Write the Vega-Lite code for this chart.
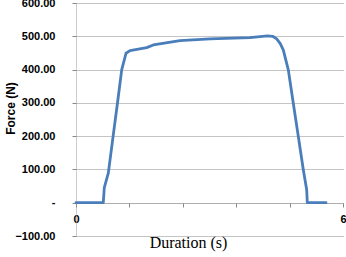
{
  "$schema": "https://vega.github.io/schema/vega-lite/v6.json",
  "width": 267,
  "height": 233,
  "autosize": "none",
  "padding": {"left": 76, "top": 3, "right": 3, "bottom": 21},
  "background": "white",
  "config": {"view": {"stroke": null}},
  "data": {"values": [
    {"t": 0, "f": 0},
    {"t": 0.613, "f": 0},
    {"t": 0.636, "f": 45},
    {"t": 0.726, "f": 89},
    {"t": 0.838, "f": 204},
    {"t": 0.951, "f": 319},
    {"t": 1.027, "f": 399},
    {"t": 1.124, "f": 449},
    {"t": 1.213, "f": 457},
    {"t": 1.589, "f": 466},
    {"t": 1.737, "f": 474},
    {"t": 2.337, "f": 487},
    {"t": 3.011, "f": 492},
    {"t": 3.91, "f": 496},
    {"t": 4.3, "f": 501},
    {"t": 4.42, "f": 500},
    {"t": 4.51, "f": 492},
    {"t": 4.59, "f": 478},
    {"t": 4.658, "f": 459},
    {"t": 4.771, "f": 399},
    {"t": 4.883, "f": 299},
    {"t": 4.996, "f": 199},
    {"t": 5.108, "f": 99},
    {"t": 5.184, "f": 39},
    {"t": 5.198, "f": 0},
    {"t": 5.618, "f": 0}
  ]},
  "mark": {"type": "line", "color": "#4a7ebb", "strokeWidth": 2.8, "strokeCap": "round", "strokeJoin": "round"},
  "encoding": {
    "x": {
      "field": "t", "type": "quantitative",
      "scale": {"domain": [0, 6], "nice": false, "zero": false},
      "axis": {
        "values": [0, 1.2, 2.4, 3.6, 4.8, 6],
        "labelExpr": "datum.value == 0 || datum.value == 6 ? format(datum.value, 'd') : ''",
        "offset": -33,
        "grid": false,
        "domainColor": "#999999",
        "domainDash": [1, 1],
        "tickColor": "#888888",
        "tickSize": 4,
        "labelFont": "Liberation Sans",
        "labelFontWeight": "bold",
        "labelFontSize": 11,
        "labelColor": "#000000",
        "labelPadding": 6,
        "labelFlush": false,
        "title": "Duration (s)",
        "titleFont": "Liberation Serif",
        "titleFontWeight": "normal",
        "titleFontSize": 16,
        "titleColor": "#000000",
        "titleX": 112,
        "titleY": 31,
        "titleBaseline": "top"
      }
    },
    "y": {
      "field": "f", "type": "quantitative",
      "scale": {"domain": [-100, 600], "nice": false, "zero": false},
      "axis": {
        "values": [-100, 0, 100, 200, 300, 400, 500, 600],
        "labelExpr": "datum.value == 0 ? '-' : format(datum.value, '.2f')",
        "grid": true,
        "gridColor": "#888888",
        "gridDash": [1, 1],
        "gridWidth": 1,
        "domainColor": "#999999",
        "domainDash": [1, 1],
        "tickColor": "#888888",
        "tickSize": 4,
        "labelFont": "Liberation Sans",
        "labelFontWeight": "bold",
        "labelFontSize": 11,
        "labelColor": "#000000",
        "labelPadding": 17,
        "title": "Force (N)",
        "titleFont": "Liberation Sans",
        "titleFontWeight": "bold",
        "titleFontSize": 12,
        "titleColor": "#000000",
        "titleX": -66,
        "titleY": 105,
        "titleAngle": -90,
        "titleBaseline": "middle",
        "titleAlign": "center"
      }
    }
  }
}
